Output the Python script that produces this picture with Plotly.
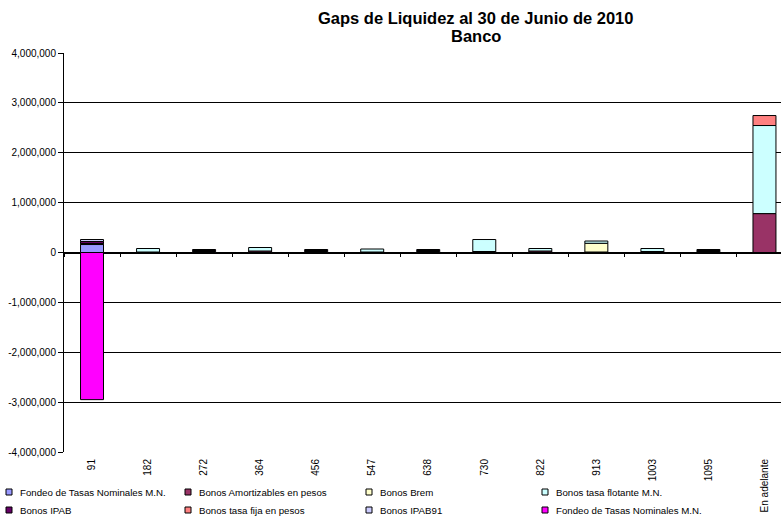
import plotly.graph_objects as go

# ---- data -------------------------------------------------------------
categories = ["91", "182", "272", "364", "456", "547", "638", "730",
              "822", "913", "1003", "1095", "En adelante"]

fondeo_tasas_nominales = [160000, None, None, None, None, None, None, None,
                          None, None, None, None, None]
bonos_amortizables = [20000, 10000, 20000, 30000, 20000, 10000, 20000, 20000,
                      30000, 10000, 20000, 20000, 780000]
bonos_brem = [None, None, None, None, None, None, None, None,
              None, 175000, None, None, None]
bonos_tasa_flotante = [None, 70000, 20000, 70000, 20000, 60000, 20000, 240000,
                       50000, 45000, 60000, 20000, 1766000]
bonos_ipab = [40000, None, 20000, None, 20000, None, 20000, None,
              None, None, None, 20000, None]
bonos_tasa_fija = [None, None, None, None, None, None, None, None,
                   None, None, None, None, 200000]
bonos_ipab91 = [40000, None, None, None, None, None, None, None,
                None, None, None, None, None]
fondeo_tasas_nominales_neg = [-2950000, None, None, None, None, None, None, None,
                              None, None, None, None, None]

series_names = ["Fondeo de Tasas Nominales M.N.", "Bonos Amortizables en pesos",
                "Bonos Brem", "Bonos tasa flotante M.N.", "Bonos IPAB",
                "Bonos tasa fija en pesos", "Bonos IPAB91",
                "Fondeo de Tasas Nominales M.N."]
series_colors = ["#9999FF", "#993366", "#FFFFCC", "#CCFFFF", "#660066",
                 "#FF8080", "#CCCCFF", "#FF00FF"]
series_values = [fondeo_tasas_nominales, bonos_amortizables, bonos_brem,
                 bonos_tasa_flotante, bonos_ipab, bonos_tasa_fija, bonos_ipab91,
                 fondeo_tasas_nominales_neg]

y_tick_values = [4000000, 3000000, 2000000, 1000000, 0, -1000000,
                 -2000000, -3000000, -4000000]
y_tick_labels = ["4,000,000", "3,000,000", "2,000,000", "1,000,000", "0",
                 "-1,000,000", "-2,000,000", "-3,000,000", "-4,000,000"]

title_lines = ["Gaps de Liquidez al 30 de Junio de 2010", "Banco"]

# ---- geometry ---------------------------------------------------------
W, H = 781, 520
L, T, B, R = 64, 53, 68, 0
PW, PH = W - L - R, H - T - B
FONT = "Liberation Sans, Arial, sans-serif"


def px_x(p):
    return (p - L) / PW


def px_y(p):
    return 1 - (p - T) / PH


fig = go.Figure()
for name, vals, color in zip(series_names, series_values, series_colors):
    fig.add_trace(go.Bar(
        x=categories, y=vals, name=name, showlegend=False,
        marker=dict(color=color, line=dict(color="#000000", width=1)),
    ))

# invisible trace that carries the category axis drawn through zero
fig.add_trace(go.Scatter(
    x=categories, y=[0] * len(categories), xaxis="x2", yaxis="y",
    mode="markers", marker=dict(opacity=0), showlegend=False,
    hoverinfo="skip",
))

x_range = [-0.5, 12.295]

shapes, annotations = [], []

# two-line bold title
for text, cy in zip(title_lines, [18, 36]):
    annotations.append(dict(
        xref="paper", yref="paper", x=px_x(476), y=px_y(cy),
        xanchor="center", yanchor="middle", showarrow=False,
        text="<b>" + text + "</b>",
        font=dict(family=FONT, size=16.5, color="#000000"),
    ))

# legend drawn as swatches and labels, two rows of four
col_left = [6, 185, 366, 542]
row_mid = [492, 510]
for i, (name, color) in enumerate(zip(series_names, series_colors)):
    cx = col_left[i % 4]
    cy = row_mid[i // 4]
    shapes.append(dict(
        type="rect", xref="paper", yref="paper",
        x0=px_x(cx), x1=px_x(cx + 6), y0=px_y(cy + 3), y1=px_y(cy - 3),
        fillcolor=color, line=dict(color="#000000", width=1),
    ))
    annotations.append(dict(
        xref="paper", yref="paper", x=px_x(cx + 12), y=px_y(cy),
        xanchor="left", yanchor="middle", showarrow=False,
        text=name, font=dict(family=FONT, size=9.7, color="#000000"),
    ))

fig.update_layout(
    width=W, height=H,
    margin=dict(l=L, r=R, t=T, b=B, pad=0),
    paper_bgcolor="#FFFFFF", plot_bgcolor="#FFFFFF",
    barmode="relative", bargap=0.59,
    font=dict(family=FONT, size=10, color="#000000"),
    xaxis=dict(
        type="category", range=x_range, tickangle=-90,
        showgrid=False, showline=False, zeroline=False, ticks="",
        tickfont=dict(family=FONT, size=10, color="#000000"),
        ticklabelstandoff=4,
    ),
    xaxis2=dict(
        type="category", range=x_range, overlaying="x", anchor="free",
        position=0.5, showticklabels=False, showgrid=False,
        showline=True, linecolor="#000000", linewidth=1,
        ticks="outside", tickson="boundaries", ticklen=3,
        tickcolor="#000000", tickwidth=1, layer="below traces",
    ),
    yaxis=dict(
        range=[-4000000, 4000000], tickvals=y_tick_values,
        ticktext=y_tick_labels, showgrid=True, gridcolor="#000000",
        gridwidth=1, zeroline=False, showline=True, linecolor="#000000",
        linewidth=1, ticks="outside", ticklen=5, tickcolor="#000000",
        tickfont=dict(family=FONT, size=10, color="#000000"),
        layer="below traces",
    ),
    shapes=shapes,
    annotations=annotations,
)

fig.write_html("out.html", config={"displayModeBar": False})
